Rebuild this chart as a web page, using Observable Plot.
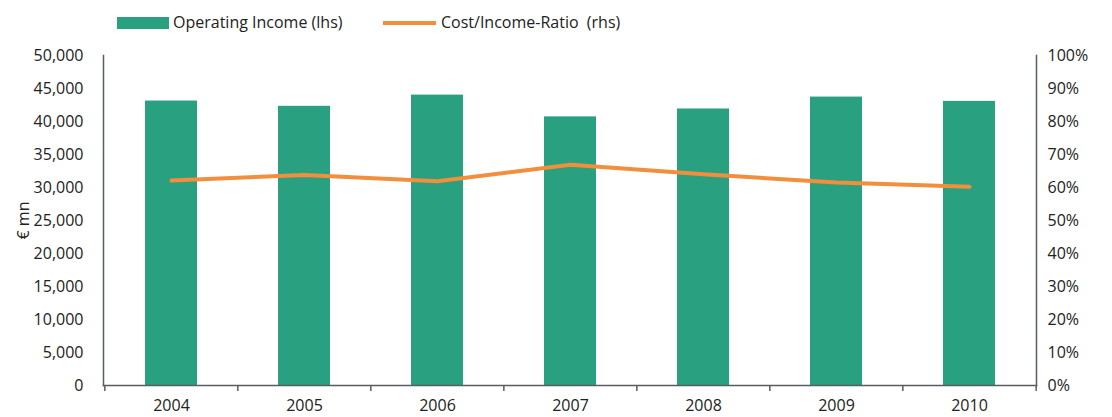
<!DOCTYPE html>
<html>
<head>
<meta charset="utf-8">
<script src="https://cdn.jsdelivr.net/npm/d3@7"></script>
<script src="https://cdn.jsdelivr.net/npm/@observablehq/plot@0.6"></script>
<style>
  html, body { margin: 0; padding: 0; background: #fff; }
  #wrap { position: relative; width: 1112px; height: 417px; font-family: "Open Sans", sans-serif; }
  .leg { position: absolute; font-size: 16px; color: #222; line-height: 1; white-space: pre; }
  .sw { position: absolute; }
</style>
</head>
<body>
<div id="wrap">
  <div class="sw" style="left:117px; top:17px; width:52px; height:12px; background:#29a181;"></div>
  <div class="leg" id="leg1" style="left:173px; top:14px;">Operating Income (lhs)</div>
  <div class="sw" style="left:383px; top:21px; width:53px; height:4px; background:#f28e3c;"></div>
  <div class="leg" id="leg2" style="left:441px; top:14px;">Cost/Income-Ratio  (rhs)</div>
</div>
<script>
const years = ["2004", "2005", "2006", "2007", "2008", "2009", "2010"];
const operatingIncome = [43100, 42300, 44000, 40700, 41900, 43700, 43050];
const costIncomeRatio = [62.1, 63.8, 61.9, 66.9, 64.0, 61.5, 60.2];
const leftTicks = [0, 5000, 10000, 15000, 20000, 25000, 30000, 35000, 40000, 45000, 50000];
const rightTickLabels = ["0%", "10%", "20%", "30%", "40%", "50%", "60%", "70%", "80%", "90%", "100%"];
const yTitle = ["€ mn"];

const ratioToLeft = 500; // 100% maps to 50,000
const data = years.map((y, i) => ({year: y, income: operatingIncome[i], ratio: costIncomeRatio[i] * ratioToLeft}));

const W = 1112, H = 417, mL = 103, mR = 76;
const step = (W - mL - mR) / years.length;
const axisColor = "#595c60";

const chart = Plot.plot({
  width: W,
  height: H,
  marginLeft: mL,
  marginRight: mR,
  marginTop: 55,
  marginBottom: 32,
  style: {fontFamily: "Open Sans, sans-serif", fontSize: "16px", color: "#222", background: "transparent"},
  x: {type: "band", domain: years, paddingInner: 0.61, paddingOuter: 0.305, label: null},
  y: {domain: [0, 50000], label: null},
  marks: [
    Plot.barY(data, {x: "year", y: "income", fill: "#29a181"}),
    Plot.line(data, {x: "year", y: "ratio", stroke: "#f28e3c", strokeWidth: 4}),
    Plot.frame({anchor: "left", stroke: axisColor, strokeWidth: 1.5}),
    Plot.frame({anchor: "right", stroke: axisColor, strokeWidth: 1.5}),
    Plot.frame({anchor: "bottom", stroke: axisColor, strokeWidth: 1.5}),
    Plot.axisX({tickSize: 6, tickFormat: () => "", dx: -step / 2, stroke: axisColor, strokeWidth: 1.5}),
    Plot.axisX({ticks: ["2010"], tickSize: 6, tickFormat: () => "", dx: step / 2, stroke: axisColor, strokeWidth: 1.5}),
    Plot.axisX({tickSize: 0, tickPadding: 14, label: null}),
    Plot.axisY({anchor: "left", ticks: leftTicks, tickSize: 0, tickPadding: 20, tickFormat: d3.format(","), label: null}),
    Plot.axisY({anchor: "right", ticks: leftTicks, tickSize: 0, tickPadding: 11, tickFormat: (d, i) => rightTickLabels[i], label: null}),
    Plot.text(yTitle, {text: d => d, frameAnchor: "left", textAnchor: "middle", dx: -80, rotate: -90, fontSize: 16, fill: "#222"})
  ]
});
chart.style.position = "absolute";
chart.style.left = "0px";
chart.style.top = "0px";
document.getElementById("wrap").prepend(chart);
</script>
</body>
</html>
